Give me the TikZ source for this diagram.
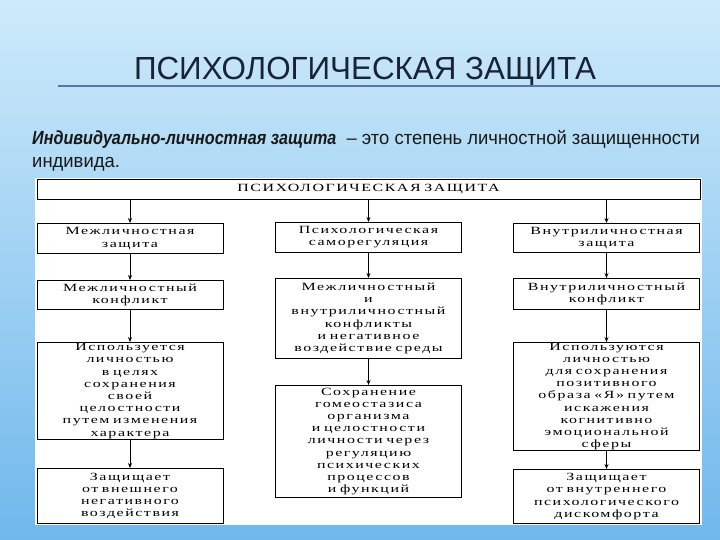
\documentclass[tikz,border=0pt]{standalone}
\usepackage{fontspec}
\setmainfont{Liberation Serif}
\newfontfamily\headfont[FakeStretch=0.98]{Liberation Sans}
\newfontfamily\leadfont[FakeStretch=0.85]{Liberation Sans}
\newfontfamily\subfont[FakeStretch=0.97]{Liberation Sans}
\newfontfamily\boxfont[FakeStretch=1.45,LetterSpace=14,WordSpace=1.8]{Liberation Serif}
\usetikzlibrary{arrows.meta,positioning,calc}
\definecolor{skytop}{RGB}{206,234,250}
\definecolor{skybot}{RGB}{112,184,236}
\definecolor{navy}{RGB}{24,34,56}
\definecolor{rulecol}{RGB}{86,118,166}

\begin{document}
\begin{tikzpicture}[x=1pt,y=-1pt,>={Stealth[length=5pt,width=4pt]},
  blk/.style={draw,line width=0.9pt,fill=white,anchor=north,align=center,
    text width=182pt,minimum width=186pt,inner xsep=2pt,inner ysep=0.5pt,
    font=\boxfont\fontsize{11}{12.2}\selectfont},
  arr/.style={->,line width=0.8pt},
  thickarr/.style={->,line width=1.7pt}]
  % background and panel
  \shade[top color=skytop,bottom color=skybot] (0,0) rectangle (720,540);
  \fill[white] (35,178) rectangle (702,525);
  \useasboundingbox (0,0) rectangle (720,540);
  % heading
  \node[anchor=base,text=navy,font=\headfont\fontsize{32}{32}\selectfont] (title) at (365,80) {ПСИХОЛОГИЧЕСКАЯ ЗАЩИТА};
  \draw[rulecol,line width=1.3pt] (58,86) -- (720,86);
  \node[anchor=base west,align=left,inner sep=0pt,text=black!90,
        font=\subfont\fontsize{19}{23}\selectfont] (intro) at (32,168)
        {{\leadfont\bfseries\itshape Индивидуально-личностная защита}\ \ – это степень личностной защищенности\\индивида.};
  % chart
  \node[blk,text width=659pt,minimum width=663pt,minimum height=20pt] (top) at (368.5,179) {ПСИХОЛОГИЧЕСКАЯ ЗАЩИТА};
  \node[blk,minimum height=30pt] (lft1) at (130,223) {Межличностная\\защита};
  \node[blk,minimum height=29pt] (lft2) at (130,280) {Межличностный\\конфликт};
  \node[blk,minimum height=97pt] (lft3) at (130,342) {Используется\\личностью\\в целях\\сохранения\\своей\\целостности\\путем изменения\\характера};
  \node[blk,minimum height=55pt] (lft4) at (130,468) {Защищает\\от внешнего\\негативного\\воздействия};
  \node[blk,minimum height=30pt] (mid1) at (368.5,222) {Психологическая\\саморегуляция};
  \node[blk,minimum height=80pt] (mid2) at (368.5,278) {Межличностный\\и\\внутриличностный\\конфликты\\и негативное\\воздействие среды};
  \node[blk,minimum height=112pt] (mid3) at (368.5,385) {Сохранение\\гомеостазиса\\организма\\и целостности\\личности через\\регуляцию\\психических\\процессов\\и функций};
  \node[blk,minimum height=29pt] (rgt1) at (606.5,223) {Внутриличностная\\защита};
  \node[blk,minimum height=31pt] (rgt2) at (606.5,278) {Внутриличностный\\конфликт};
  \node[blk,minimum height=107pt] (rgt3) at (606.5,342) {Используются\\личностью\\для сохранения\\позитивного\\образа «Я» путем\\искажения\\когнитивно\\эмоциональной\\сферы};
  \node[blk,minimum height=54pt] (rgt4) at (606.5,469) {Защищает\\от внутреннего\\психологического\\дискомфорта};
  % arrows
  \draw[arr] (lft1.north |- top.south) -- (lft1);
  \draw[arr] (lft1) -- (lft2);
  \draw[arr] (lft2) -- (lft3);
  \draw[arr] (lft3) -- (lft4);
  \draw[arr] (mid1.north |- top.south) -- (mid1);
  \draw[arr] (mid1) -- (mid2);
  \draw[arr] (mid2) -- (mid3);
  \draw[thickarr] (rgt1.north |- top.south) -- (rgt1);
  \draw[thickarr] (rgt1) -- (rgt2);
  \draw[thickarr] (rgt2) -- (rgt3);
  \draw[thickarr] (rgt3) -- (rgt4);
\end{tikzpicture}
\end{document}
